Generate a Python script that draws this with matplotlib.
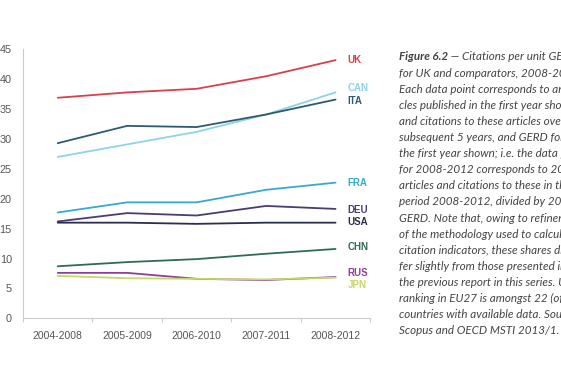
import matplotlib
matplotlib.use("Agg")
import matplotlib.pyplot as plt

# data
periods = ["2004-2008", "2005-2009", "2006-2010", "2007-2011", "2008-2012"]
uk = [36.9, 37.8, 38.4, 40.5, 43.2]
can = [27.0, 29.1, 31.2, 34.1, 37.8]
ita = [29.3, 32.2, 32.0, 34.1, 36.6]
fra = [17.7, 19.4, 19.4, 21.5, 22.7]
deu = [16.2, 17.6, 17.2, 18.8, 18.3]
usa = [16.0, 16.0, 15.8, 16.0, 16.0]
chn = [8.7, 9.4, 9.9, 10.8, 11.6]
rus = [7.6, 7.6, 6.6, 6.4, 6.9]
jpn = [7.1, 6.7, 6.6, 6.5, 6.8]

names = ["UK", "CAN", "ITA", "FRA", "DEU", "USA", "CHN", "RUS", "JPN"]
series = [uk, can, ita, fra, deu, usa, chn, rus, jpn]
colors = ["#d8404a", "#8fd3e6", "#2e5b6d", "#38a9cf", "#4b3d70",
          "#2b2f4f", "#2f6b55", "#8b3f96", "#c5d86a"]
# label heights, nudged apart so they don't overlap
label_y = [43.2, 38.5, 36.4, 22.6, 18.2, 16.05, 11.9, 7.5, 5.5]

caption = [
    "for UK and comparators, 2008-2012.",
    "Each data point corresponds to arti-",
    "cles published in the first year shown",
    "and citations to these articles over the",
    "subsequent 5 years, and GERD for",
    "the first year shown; i.e. the data point",
    "for 2008-2012 corresponds to 2008",
    "articles and citations to these in the",
    "period 2008-2012, divided by 2008",
    "GERD. Note that, owing to refinements",
    "of the methodology used to calculate",
    "citation indicators, these shares dif-",
    "fer slightly from those presented in",
    "the previous report in this series. UK",
    "ranking in EU27 is amongst 22 (of 27)",
    "countries with available data. Source:",
    "Scopus and OECD MSTI 2013/1.",
]

plt.rcParams['font.family'] = ['Liberation Sans', 'DejaVu Sans']

fig = plt.figure(figsize=(5.61, 3.74), dpi=100)
ax = fig.add_axes([0.041, 0.149, 0.619, 0.719])

x = list(range(len(periods)))
for vals, c in zip(series, colors):
    ax.plot(x, vals, color=c, lw=1.3, solid_capstyle='round')
for name, c, ly in zip(names, colors, label_y):
    ax.text(4.17, ly, name, color=c, fontsize=7, fontweight='bold', va='center')

ax.set_xlim(-0.5, 4.5)
ax.set_ylim(0, 45)
ax.set_yticks(range(0, 46, 5))
ax.set_xticks(x)
ax.set_xticklabels(periods)
ax.set_xticks([i - 0.5 for i in range(len(periods) + 1)], minor=True)
ax.tick_params(axis='x', which='major', length=0, pad=9, labelsize=7.5, labelcolor='#555555')
ax.tick_params(axis='x', which='minor', length=3, color='#cccccc', width=0.8)
ax.tick_params(axis='y', length=0, pad=8, labelsize=7.8, labelcolor='#555555')
for s in ['top', 'right']:
    ax.spines[s].set_visible(False)
for s in ['left', 'bottom']:
    ax.spines[s].set_color('#cccccc')
    ax.spines[s].set_linewidth(0.8)

# caption block on the right, runs off the figure edge like the original
tx = 399 / 561
ty = 1 - 57 / 374
step = 16.1 / 374
txt_kw = dict(fontsize=8.4, family=['Lato', 'DejaVu Sans'], style='italic',
              color='#444444', va='center')
head = fig.text(tx, ty, "Figure 6.2", fontweight='bold', **txt_kw)
fig.add_artist(plt.Annotation(" \u2014 Citations per unit GERD", xy=(1, 0.5), xycoords=head,
                              xytext=(0, 0), textcoords='offset points', ha='left', **txt_kw))
for i, line in enumerate(caption, start=1):
    fig.text(tx, ty - i * step, line, **txt_kw)

fig.savefig("out.png", dpi=100)
